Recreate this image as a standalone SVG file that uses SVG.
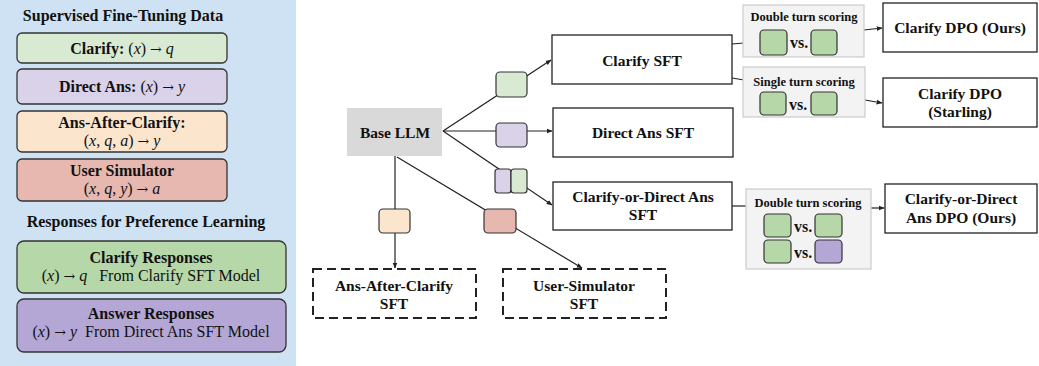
<svg xmlns="http://www.w3.org/2000/svg" width="1039" height="366" viewBox="0 0 1039 366">
<defs>
<style>
text{font-family:"Liberation Serif","Times New Roman",serif;fill:#111;white-space:pre;}
.b{font-weight:bold;}
.c{text-anchor:middle;}
.i{font-style:italic;}
.ar{font-family:"DejaVu Serif",serif;font-size:14px;}
.lbox{stroke:#333;stroke-width:1.3;}
.node{fill:#fff;stroke:#222;stroke-width:1.3;}
.dash{fill:#fff;stroke:#222;stroke-width:2;stroke-dasharray:9,5;}
.score{fill:#f3f3f3;stroke:#cccccc;stroke-width:1.2;}
.sq{stroke:#333;stroke-width:1.2;}
.g1{fill:#d9ead3;}
.p1{fill:#d9d2e9;}
.o1{fill:#fce5cd;}
.r1{fill:#e6b8af;}
.g2{fill:#b6d7a8;}
.p2{fill:#b4a7d6;}
.ln{stroke:#222;stroke-width:1.2;fill:none;}
.t16{font-size:16px;}
.t15{font-size:15.5px;}
.t12{font-size:12.5px;}
.vs{font-size:16px;font-weight:bold;}
</style>
<marker id="ah" viewBox="0 0 10 10" refX="9" refY="5" markerWidth="6" markerHeight="6" orient="auto" markerUnits="userSpaceOnUse">
<path d="M0,1 L10,5 L0,9 z" fill="#222"/>
</marker>
</defs>

<g id="legend">
<rect x="0" y="0" width="296" height="366" fill="#cfe2f3"/>
<text class="b c t16" x="123" y="21">Supervised Fine-Tuning Data</text>
<rect class="lbox g1" x="17" y="33" width="210" height="30" rx="5"/>
<text class="c t16" x="122" y="54"><tspan class="b">Clarify: </tspan>(<tspan class="i">x</tspan>) <tspan class="ar">→</tspan> <tspan class="i">q</tspan></text>
<rect class="lbox p1" x="17" y="69" width="210" height="35" rx="5"/>
<text class="c t16" x="122" y="92"><tspan class="b">Direct Ans: </tspan>(<tspan class="i">x</tspan>) <tspan class="ar">→</tspan> <tspan class="i">y</tspan></text>
<rect class="lbox o1" x="17" y="111" width="210" height="41" rx="5"/>
<text class="c t16 b" x="122" y="128">Ans-After-Clarify:</text>
<text class="c t16" x="122" y="146">(<tspan class="i">x</tspan>, <tspan class="i">q</tspan>, <tspan class="i">a</tspan>) <tspan class="ar">→</tspan> <tspan class="i">y</tspan></text>
<rect class="lbox r1" x="17" y="159" width="210" height="42" rx="5"/>
<text class="c t16 b" x="122" y="176">User Simulator</text>
<text class="c t16" x="122" y="194">(<tspan class="i">x</tspan>, <tspan class="i">q</tspan>, <tspan class="i">y</tspan>) <tspan class="ar">→</tspan> <tspan class="i">a</tspan></text>
<text class="b c t16" x="146" y="227">Responses for Preference Learning</text>
<rect class="lbox g2" x="17" y="241" width="269" height="52" rx="7"/>
<text class="c t16 b" x="151" y="263">Clarify Responses</text>
<text class="c t16" x="151" y="281">(<tspan class="i">x</tspan>) <tspan class="ar">→</tspan> <tspan class="i">q</tspan>   From Clarify SFT Model</text>
<rect class="lbox p2" x="17" y="299" width="269" height="53" rx="7"/>
<text class="c t16 b" x="151" y="319">Answer Responses</text>
<text class="c t16" x="151" y="337">(<tspan class="i">x</tspan>) <tspan class="ar">→</tspan> <tspan class="i">y</tspan>  From Direct Ans SFT Model</text>
</g>

<g id="connectors">
<line class="ln" x1="443" y1="131" x2="551" y2="60" marker-end="url(#ah)"/>
<line class="ln" x1="443" y1="131" x2="552" y2="131" marker-end="url(#ah)"/>
<line class="ln" x1="443" y1="131" x2="552" y2="205" marker-end="url(#ah)"/>
<line class="ln" x1="395" y1="156" x2="395" y2="268" marker-end="url(#ah)"/>
<line class="ln" x1="397" y1="157" x2="582" y2="268" marker-end="url(#ah)"/>
<line class="ln" x1="732" y1="44" x2="744" y2="43"/>
<line class="ln" x1="732" y1="78" x2="744" y2="80"/>
<line class="ln" x1="732" y1="206" x2="746" y2="206"/>
<line class="ln" x1="864" y1="30" x2="882" y2="28" marker-end="url(#ah)"/>
<line class="ln" x1="865" y1="100" x2="882" y2="103" marker-end="url(#ah)"/>
<line class="ln" x1="871" y1="208" x2="884" y2="208" marker-end="url(#ah)"/>
<rect class="sq g1" x="496" y="72" width="31" height="25" rx="4"/>
<rect class="sq p1" x="496" y="123" width="31" height="24" rx="4"/>
<rect class="sq p1" x="495" y="169" width="16" height="24" rx="3"/>
<rect class="sq g1" x="511" y="169" width="16" height="24" rx="3"/>
<rect class="sq o1" x="379" y="209" width="31" height="24" rx="4"/>
<rect class="sq r1" x="484" y="209" width="32" height="24" rx="4"/>
</g>

<g id="base-llm">
<rect x="347" y="108" width="95" height="48" fill="#d9d9d9"/>
<text class="b c t15" x="395" y="138">Base LLM</text>
</g>

<g id="clarify-sft">
<rect class="node" x="552" y="35" width="180" height="49"/>
<text class="b c t15" x="642" y="66">Clarify SFT</text>
</g>

<g id="direct-ans-sft">
<rect class="node" x="553" y="108" width="180" height="49"/>
<text class="b c t15" x="643" y="138">Direct Ans SFT</text>
</g>

<g id="clarify-or-direct-sft">
<rect class="node" x="553" y="182" width="179" height="48"/>
<text class="b c t15" x="643" y="202">Clarify-or-Direct Ans</text>
<text class="b c t15" x="643" y="220">SFT</text>
</g>

<g id="ans-after-clarify-sft">
<rect class="dash" x="313" y="269" width="163" height="49"/>
<text class="b c t15" x="394" y="291">Ans-After-Clarify</text>
<text class="b c t15" x="394" y="309">SFT</text>
</g>

<g id="user-simulator-sft">
<rect class="dash" x="503" y="269" width="163" height="49"/>
<text class="b c t15" x="584" y="291">User-Simulator</text>
<text class="b c t15" x="584" y="309">SFT</text>
</g>

<g id="double-turn-top">
<rect class="score" x="743" y="5" width="121" height="52"/>
<text class="b c t12" x="804" y="21">Double turn scoring</text>
<rect class="sq g2" x="760" y="30" width="27" height="25" rx="4"/>
<text class="vs" x="790" y="48">vs.</text>
<rect class="sq g2" x="811" y="30" width="26" height="25" rx="4"/>
</g>

<g id="single-turn">
<rect class="score" x="743" y="67" width="122" height="50"/>
<text class="b c t12" x="804" y="86">Single turn scoring</text>
<rect class="sq g2" x="760" y="92" width="26" height="23" rx="4"/>
<text class="vs" x="789" y="110">vs.</text>
<rect class="sq g2" x="811" y="92" width="26" height="23" rx="4"/>
</g>

<g id="double-turn-bottom">
<rect class="score" x="746" y="189" width="125" height="80"/>
<text class="b c t12" x="808" y="207">Double turn scoring</text>
<rect class="sq g2" x="764" y="214" width="27" height="23" rx="4"/>
<text class="vs" x="794" y="232">vs.</text>
<rect class="sq g2" x="815" y="214" width="27" height="23" rx="4"/>
<rect class="sq g2" x="764" y="240" width="27" height="23" rx="4"/>
<text class="vs" x="794" y="258">vs.</text>
<rect class="sq p2" x="815" y="240" width="27" height="23" rx="4"/>
</g>

<g id="clarify-dpo-ours">
<rect class="node" x="883" y="3" width="154" height="49"/>
<text class="b c t15" x="960" y="33">Clarify DPO (Ours)</text>
</g>

<g id="clarify-dpo-starling">
<rect class="node" x="883" y="78" width="154" height="49"/>
<text class="b c t15" x="960" y="99">Clarify DPO</text>
<text class="b c t15" x="960" y="117">(Starling)</text>
</g>

<g id="clarify-or-direct-dpo">
<rect class="node" x="885" y="184" width="152" height="49"/>
<text class="b c t15" x="961" y="204">Clarify-or-Direct</text>
<text class="b c t15" x="961" y="223">Ans DPO (Ours)</text>
</g>
</svg>
